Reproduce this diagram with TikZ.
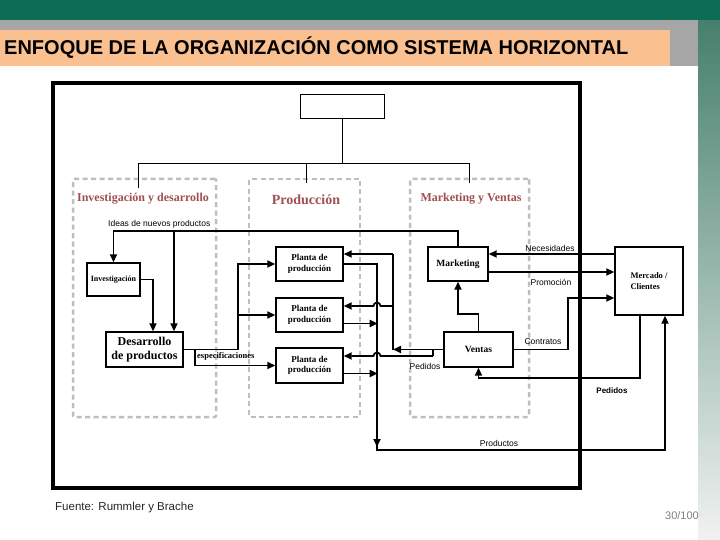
\documentclass[tikz,border=0pt]{standalone}
\usepackage{fontspec}
\setmainfont{Liberation Serif}
\setsansfont{Liberation Sans}
\usetikzlibrary{arrows.meta,calc}
\definecolor{dkgreen}{RGB}{12,108,84}
\definecolor{midgreen}{RGB}{70,128,108}
\definecolor{lightend}{RGB}{240,242,241}
\definecolor{peach}{RGB}{250,192,144}
\definecolor{bandgray}{RGB}{166,166,166}
\definecolor{titlered}{RGB}{160,80,80}
\definecolor{dashgray}{RGB}{190,190,190}
\begin{document}
\begin{tikzpicture}[x=1pt,y=-1pt,
  conn/.style={line width=1.7pt},
  arr/.style={conn,-{Triangle[length=8pt,width=7pt]}},
  org/.style={line width=0.9pt},
  box/.style={draw,line width=1.4pt,inner sep=1pt,fill=white},
  dbox/.style={draw=dashgray,line width=2.5pt,dash pattern=on 5pt off 3.5pt,rounded corners=1pt,minimum height=238pt,inner sep=0pt},
  ttl/.style={font=\fontsize{12}{14}\selectfont\bfseries,text=titlered,inner sep=0pt},
  lbl/.style={font=\sffamily\fontsize{8.5}{10}\selectfont,inner sep=0pt},
  plant/.style={box,minimum width=67pt,minimum height=34pt,align=center,font=\fontsize{9}{10.5}\selectfont\bfseries},
]
\useasboundingbox (0,0) rectangle (720,540);
% background
\fill[white] (0,0) rectangle (720,540);
\shade[top color=midgreen,bottom color=lightend] (698,20) rectangle (720,540);
\fill[dkgreen] (0,0) rectangle (720,20);
\fill[bandgray] (0,20) rectangle (698,66);
\fill[peach] (0,30) rectangle (670,66);
\node[anchor=west,font=\sffamily\fontsize{20}{22}\selectfont\bfseries,inner sep=0pt] (title) at (4,47.5) {ENFOQUE DE LA ORGANIZACIÓN COMO SISTEMA HORIZONTAL};

% dashed functional areas
\node[dbox,minimum width=143pt] (iydbox) at (144.5,298) {};
\node[dbox,minimum width=111pt] (prodbox) at (304.5,298) {};
\node[dbox,minimum width=119pt] (mvbox) at (469.5,298) {};
\node[ttl] (iydT) at (143,199) {Investigación y desarrollo};
\node[ttl,font=\fontsize{14}{16}\selectfont\bfseries] (prodT) at (306,200) {Producción};
\node[ttl] (mvT) at (471,199) {Marketing y Ventas};

% frame
\node[draw,line width=3.5pt,minimum width=527pt,minimum height=405pt,inner sep=0pt] (frame) at (316.5,285.5) {};

% org chart
\node[draw,line width=1pt,minimum width=84pt,minimum height=24pt,inner sep=0pt] (topbox) at (342,107) {};
\coordinate (hL) at (138,163);
\coordinate (hM) at (306,163);
\coordinate (hR) at (469,163);
\draw[org] (topbox.south) -- (topbox.south |- hL);
\draw[org] (hL) -- (hR);
\draw[org] (hL) -- ++(0,25);
\draw[org] (hM) -- ++(0,20);
\draw[org] (hR) -- ++(0,20);

% boxes
\node[box,minimum width=53pt,minimum height=33pt,font=\fontsize{8}{9}\selectfont\bfseries] (inv) at (113.5,279.5) {Investigación};
\node[box,minimum width=77pt,minimum height=35pt,align=center,font=\fontsize{12}{14}\selectfont\bfseries] (des) at (144.5,349.5) {Desarrollo\\de productos};
\node[plant] (p1) at (309.5,264) {Planta de\\producción};
\node[plant] (p2) at (309.5,315) {Planta de\\producción};
\node[plant,minimum height=35pt] (p3) at (309.5,365.5) {Planta de\\producción};
\node[box,minimum width=60pt,minimum height=34pt,font=\fontsize{9.5}{11}\selectfont\bfseries] (mkt) at (458,264) {Marketing};
\node[box,minimum width=69pt,minimum height=35pt,font=\fontsize{9.5}{11}\selectfont\bfseries] (ven) at (478.5,349.5) {Ventas};
\node[box,minimum width=68pt,minimum height=68pt,align=left,font=\fontsize{8.5}{11}\selectfont\bfseries] (mer) at (649,281) {Mercado /\\Clientes};

% Ideas de nuevos productos
\coordinate (ideaL) at (113.5,231);
\coordinate (ideaB) at (174,231);
\draw[arr] (mkt.north) |- (ideaL) -- (inv.north);
\draw[arr] (ideaB) -- (ideaB |- des.north);
\coordinate (idx) at (153,0);
\draw[arr] (inv.east) -| (des.north -| idx);

% especificaciones
\coordinate (sp) at (238,349.5);
\coordinate (sp2) at (195,349.5);
\draw[conn] (des.east) -- (sp);
\draw[arr] (sp) |- (p1.west);
\draw[arr] (sp |- p2.west) -- (p2.west);
\draw[arr] (sp2) |- (p3.west);

% Pedidos from Ventas to plants
\coordinate (pedE) at (393,349.5);
\coordinate (j1) at (393,254);
\coordinate (j2) at (393,306);
\coordinate (j3) at (433,349.5);
\coordinate (j3b) at (433,356);
\draw[arr] (ven.west) -- (pedE);
\draw[conn] (pedE) -- (j1);
\draw[arr] (j1) -- (p1.east |- j1);
\draw[arr] (j2) -- (380.5,306) arc (0:-180:3.5) -- (p2.east |- j2);
\draw[conn] (j3) -- (j3b);
\draw[arr] (j3b) -- (380.5,356) arc (0:-180:3.5) -- (p3.east |- j3b);

% plant output -> Productos -> Mercado
\coordinate (pv) at (377,450);
\coordinate (mk) at (665,450);
\draw[arr] (p1.east) -| (pv) -- (mk) -- (mer.south -| mk);
\draw[arr] (377,425) -- (377,447);
\draw[arr] ($(p2.east)+(0,8.5)$) -- ++(34,0);
\draw[arr] ($(p3.east)+(0,8)$) -- ++(34,0);

% Marketing / Ventas / Mercado
\draw[arr] (ven.north) |- ++(-20.5,-17) -- (mkt.south);
\draw[arr] (ven.east) -- (568,349.5) |- ($(mer.west)+(0,17)$);
\draw[arr] ($(mkt.east)+(0,8)$) -- ($(mer.west)+(0,-9)$);
\draw[arr] ($(mer.west)+(0,-27)$) -- ($(mkt.east)+(0,-10)$);
\draw[arr] ($(mer.south)+(-9,0)$) |- ($(ven.south)+(0,10)$) -- (ven.south);

% labels
\node[lbl,anchor=west] (ideasT) at (108,224) {Ideas de nuevos productos};
\node[lbl] (necT) at (550,248.5) {Necesidades};
\node[lbl] (promT) at (551,282) {Promoción};
\node[lbl] (contT) at (543,342) {Contratos};
\node[lbl] (pedT1) at (425,366) {Pedidos};
\node[lbl,font=\sffamily\fontsize{8}{10}\selectfont\bfseries] (pedT2) at (612,391) {Pedidos};
\node[lbl] (prodT2) at (499,443) {Productos};
\node[anchor=west,inner sep=0pt,font=\fontsize{8.5}{10}\selectfont\bfseries] (espT) at (197,356) {especificaciones};

\node[anchor=west,inner sep=0pt,font=\sffamily\fontsize{11.5}{13}\selectfont,text=black!85] (src) at (55,508) {Fuente: Rummler y Brache};
\node[inner sep=0pt,font=\sffamily\fontsize{11}{13}\selectfont,text=gray] (pg) at (682,516) {30/100};
\end{tikzpicture}
\end{document}
